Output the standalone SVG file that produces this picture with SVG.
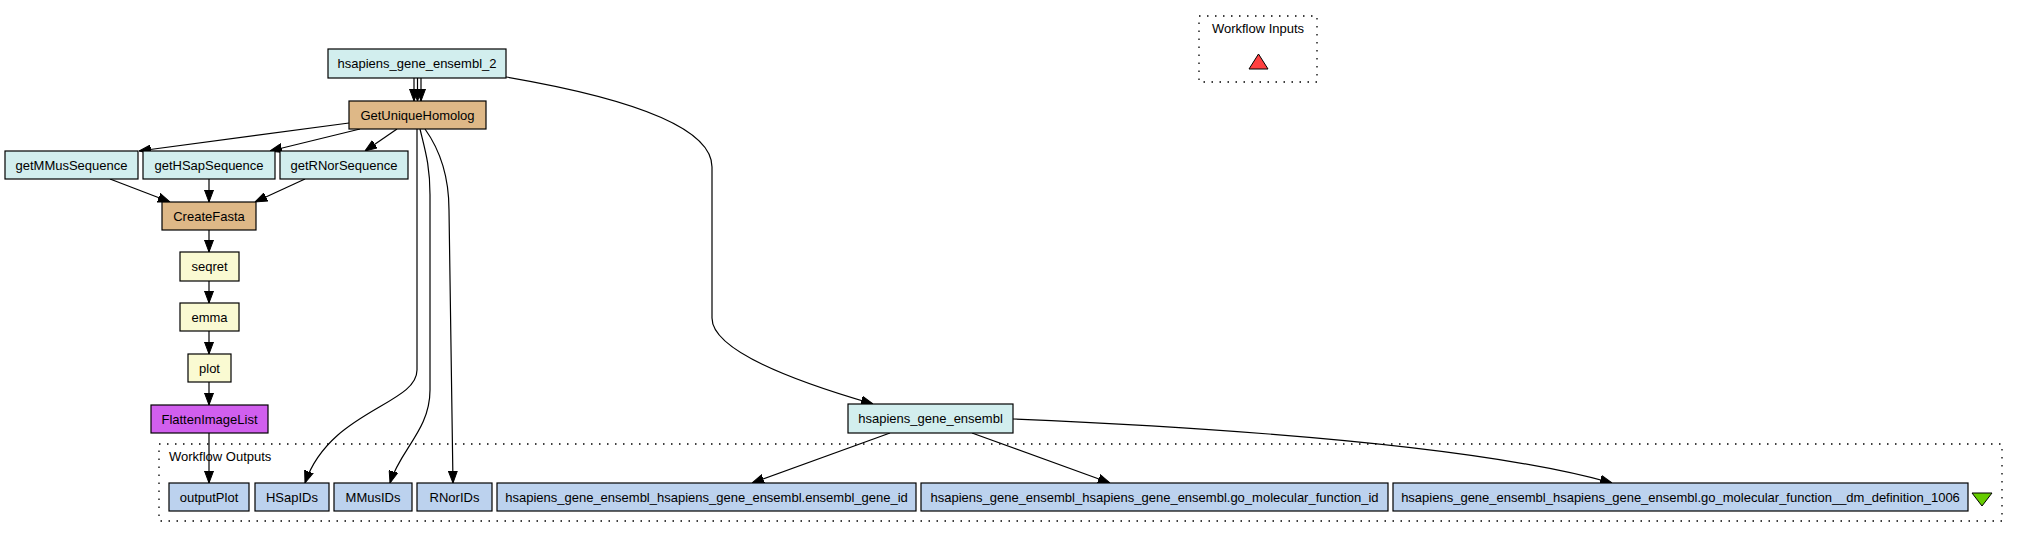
<svg xmlns="http://www.w3.org/2000/svg" width="2017" height="539" viewBox="0 0 2017 539">
<style>
  .n rect { stroke: #000; stroke-width: 1.2; }
  .n text, .cl text { font-family: "Liberation Sans", Arial, sans-serif; font-size: 13px; fill: #000; }
  .n text { text-anchor: middle; }
  .cyan { fill: #d2eeee; }
  .bean { fill: #deb887; }
  .soap { fill: #fafad2; }
  .local { fill: #d15fee; }
  .out { fill: #bcd2ee; }
  .cl rect { fill: none; stroke: #000; stroke-width: 1.3; stroke-dasharray: 1.5 6.5; }
  #edges path { fill: none; stroke: #000; stroke-width: 1.2; marker-end: url(#ah); }
</style>
<defs>
  <marker id="ah" markerWidth="12" markerHeight="10" refX="12" refY="5" orient="auto" markerUnits="userSpaceOnUse">
    <path d="M0,0.5 L12,5 L0,9.5 z" fill="#000" stroke="#000" stroke-width="1"/>
  </marker>
</defs>
<rect width="2017" height="539" fill="#fff"/>

<g id="cluster_inputs" class="cl">
  <rect x="1199" y="16" width="118" height="66"/>
  <text x="1258" y="33" text-anchor="middle">Workflow Inputs</text>
  <polygon points="1249,69 1268,69 1258.5,54" fill="#ff4040" stroke="#000" stroke-width="1"/>
</g>

<g id="cluster_outputs" class="cl">
  <rect x="159" y="444" width="1843" height="77"/>
  <text x="169" y="461">Workflow Outputs</text>
  <polygon points="1972,493 1992,493 1982,506" fill="#66cd00" stroke="#000" stroke-width="1"/>
</g>

<g id="edges">
  <path d="M414,78 L414,101"/>
  <path d="M417.5,78 L417.5,101"/>
  <path d="M421,78 L421,101"/>
  <path d="M506,77 C640,100 712,130 712,167 L712,318 C712,350 790,380 873,404"/>
  <path d="M349,123 L139,151"/>
  <path d="M360,129 L270,151"/>
  <path d="M397,129 L365,151"/>
  <path d="M417,129 L417,370 C417,405 330,410 305,483"/>
  <path d="M420,129 C425,150 430,165 430,195 L430,390 C430,430 400,450 390,483"/>
  <path d="M425,129 C440,150 449,175 449,210 L453,483"/>
  <path d="M110,179 L170,202"/>
  <path d="M209,179 L209,202"/>
  <path d="M305,179 L255,202"/>
  <path d="M209,230 L209,252"/>
  <path d="M209,281 L209,303"/>
  <path d="M209,331 L209,354"/>
  <path d="M209,382 L209,405"/>
  <path d="M209,433 L209,483"/>
  <path d="M890,433 L752,483"/>
  <path d="M972,433 L1110,483"/>
  <path d="M1013,419 C1200,427 1470,443 1612,483"/>
</g>

<g id="hsapiens_gene_ensembl_2" class="n"><rect class="cyan" x="328" y="49" width="178" height="29"/><text x="417" y="68">hsapiens_gene_ensembl_2</text></g>
<g id="GetUniqueHomolog" class="n"><rect class="bean" x="349" y="101" width="137" height="28"/><text x="417.5" y="119.5">GetUniqueHomolog</text></g>
<g id="getMMusSequence" class="n"><rect class="cyan" x="5" y="151" width="133" height="28"/><text x="71.5" y="169.5">getMMusSequence</text></g>
<g id="getHSapSequence" class="n"><rect class="cyan" x="143" y="151" width="132" height="28"/><text x="209" y="169.5">getHSapSequence</text></g>
<g id="getRNorSequence" class="n"><rect class="cyan" x="280" y="151" width="128" height="28"/><text x="344" y="169.5">getRNorSequence</text></g>
<g id="CreateFasta" class="n"><rect class="bean" x="162" y="202" width="94" height="28"/><text x="209" y="220.5">CreateFasta</text></g>
<g id="seqret" class="n"><rect class="soap" x="180" y="252" width="59" height="29"/><text x="209.5" y="271">seqret</text></g>
<g id="emma" class="n"><rect class="soap" x="180" y="303" width="59" height="28"/><text x="209.5" y="321.5">emma</text></g>
<g id="plot" class="n"><rect class="soap" x="188" y="354" width="43" height="28"/><text x="209.5" y="372.5">plot</text></g>
<g id="FlattenImageList" class="n"><rect class="local" x="151" y="405" width="117" height="28"/><text x="209.5" y="423.5">FlattenImageList</text></g>
<g id="hsapiens_gene_ensembl" class="n"><rect class="cyan" x="848" y="404" width="165" height="29"/><text x="930.5" y="423">hsapiens_gene_ensembl</text></g>
<g id="outputPlot" class="n"><rect class="out" x="169" y="483" width="80" height="28"/><text x="209" y="501.5">outputPlot</text></g>
<g id="HSapIDs" class="n"><rect class="out" x="255" y="483" width="74" height="28"/><text x="292" y="501.5">HSapIDs</text></g>
<g id="MMusIDs" class="n"><rect class="out" x="334" y="483" width="78" height="28"/><text x="373" y="501.5">MMusIDs</text></g>
<g id="RNorIDs" class="n"><rect class="out" x="417" y="483" width="75" height="28"/><text x="454.5" y="501.5">RNorIDs</text></g>
<g id="out_ensembl_gene_id" class="n"><rect class="out" x="497" y="483" width="419" height="28"/><text x="706.5" y="501.5">hsapiens_gene_ensembl_hsapiens_gene_ensembl.ensembl_gene_id</text></g>
<g id="out_go_molecular_function_id" class="n"><rect class="out" x="921" y="483" width="467" height="28"/><text x="1154.5" y="501.5">hsapiens_gene_ensembl_hsapiens_gene_ensembl.go_molecular_function_id</text></g>
<g id="out_dm_definition_1006" class="n"><rect class="out" x="1393" y="483" width="575" height="28"/><text x="1680.5" y="501.5">hsapiens_gene_ensembl_hsapiens_gene_ensembl.go_molecular_function__dm_definition_1006</text></g>
</svg>
